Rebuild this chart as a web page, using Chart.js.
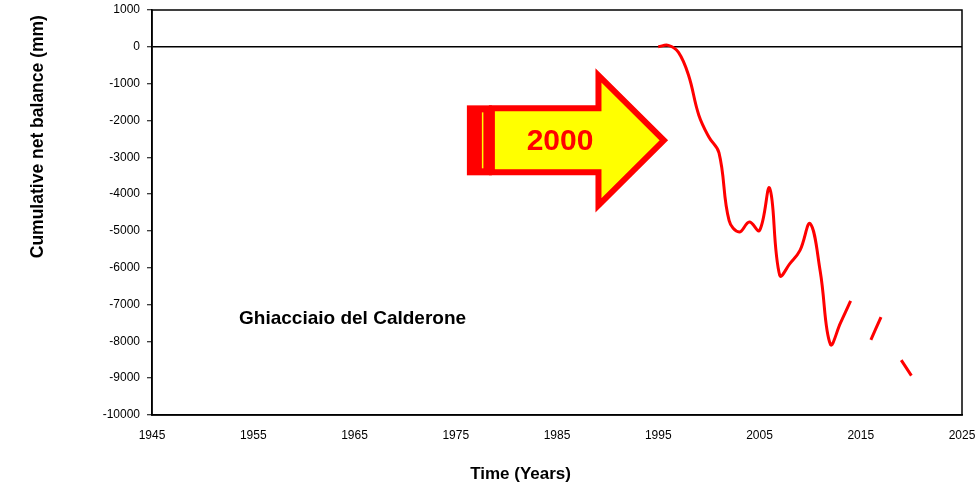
<!DOCTYPE html>
<html>
<head>
<meta charset="utf-8">
<script src="https://cdn.jsdelivr.net/npm/chart.js@4.4.1/dist/chart.umd.min.js"></script>
<style>
  html, body { margin: 0; padding: 0; background: #ffffff; }
  #wrap { width: 978px; height: 489px; position: relative; }
</style>
</head>
<body>
<div id="wrap"><canvas id="c" width="978" height="489"></canvas></div>
<script>
// ---- Data ----
const years = [1995, 1996, 1997, 1998, 1999, 2000, 2001, 2002, 2003, 2004, 2005, 2006, 2007, 2008, 2009, 2010, 2011, 2012, 2013, 2014, 2015, 2016, 2017, 2018, 2019, 2020];
const cumulativeBalance = [0, 40, -150, -780, -1850, -2450, -2880, -4720, -5030, -4760, -4990, -3840, -6210, -5890, -5530, -4800, -6100, -8080, -7500, -6900, null, -7960, -7340, null, -8510, -8930];
const xTicks = [1945, 1955, 1965, 1975, 1985, 1995, 2005, 2015, 2025];
const yTicks = [1000, 0, -1000, -2000, -3000, -4000, -5000, -6000, -7000, -8000, -9000, -10000];
const glacierName = 'Ghiacciaio del Calderone';
const arrowLabel = '2000';
const xTitle = 'Time (Years)';
const yTitle = 'Cumulative net balance (mm)';

const points = years.map((y, i) => ({ x: y, y: cumulativeBalance[i] }));

const decor = {
  id: 'decor',
  afterDraw(chart) {
    const { ctx, chartArea: a, scales } = chart;
    const xs = scales.x, ys = scales.y;
    const px = v => xs.getPixelForValue(v);
    const py = v => ys.getPixelForValue(v);
    ctx.save();
    // plot box
    ctx.strokeStyle = '#000';
    ctx.lineWidth = 1.5;
    ctx.strokeRect(a.left, a.top, a.right - a.left, a.bottom - a.top);

    // arrow annotation (positioned in data units)
    const L = px(1976.1), base = px(1988.8), tip = px(1995.75);
    const sTop = py(-1590), sBot = py(-3490), hTop = py(-640), hBot = py(-4440), mid = py(-2540);
    const w = 6;
    ctx.beginPath();
    ctx.moveTo(L + 25, sTop + w / 2);
    ctx.lineTo(base + w / 2, sTop + w / 2);
    ctx.lineTo(base + w / 2, hTop + 5);
    ctx.lineTo(tip - 2, mid);
    ctx.lineTo(base + w / 2, hBot - 5);
    ctx.lineTo(base + w / 2, sBot - w / 2);
    ctx.lineTo(L + 25, sBot - w / 2);
    ctx.closePath();
    ctx.fillStyle = '#ffff00';
    ctx.fill();
    ctx.strokeStyle = '#ff0000';
    ctx.lineWidth = w;
    ctx.lineJoin = 'miter';
    ctx.stroke();
    // left striped block
    ctx.fillStyle = '#ff0000';
    ctx.fillRect(L, sTop, 25, sBot - sTop);
    ctx.fillStyle = '#ffff00';
    ctx.fillRect(L + 15, sTop + 7, 1.5, sBot - sTop - 14);
    // label in arrow
    ctx.fillStyle = '#ff0000';
    ctx.font = 'bold 30px "Liberation Sans", Arial, sans-serif';
    ctx.textAlign = 'center';
    ctx.textBaseline = 'middle';
    ctx.fillText(arrowLabel, px(1985.3), mid + 1);

    // glacier name
    ctx.fillStyle = '#000';
    ctx.font = 'bold 19px "Liberation Sans", Arial, sans-serif';
    ctx.textAlign = 'left';
    ctx.textBaseline = 'middle';
    ctx.fillText(glacierName, px(1953.6), py(-7390));

    // axis titles
    ctx.font = 'bold 17px "Liberation Sans", Arial, sans-serif';
    ctx.textAlign = 'center';
    ctx.textBaseline = 'middle';
    ctx.fillText(xTitle, px(1981.4), 474);
    ctx.font = 'bold 17.5px "Liberation Sans", Arial, sans-serif';
    ctx.translate(38, py(-2440));
    ctx.rotate(-Math.PI / 2);
    ctx.fillText(yTitle, 0, 0);
    ctx.restore();
  }
};

new Chart(document.getElementById('c'), {
  type: 'line',
  data: {
    datasets: [{
      data: points,
      borderColor: '#ff0000',
      borderWidth: 3,
      pointRadius: 0,
      tension: 0.4,
      spanGaps: false,
      fill: false
    }]
  },
  options: {
    responsive: false,
    animation: false,
    layout: { padding: { top: 10, right: 16, left: 0, bottom: 0 } },
    plugins: { legend: { display: false }, tooltip: { enabled: false } },
    scales: {
      x: {
        type: 'linear',
        min: 1945, max: 2025,
        afterBuildTicks: s => { s.ticks = xTicks.map(v => ({ value: v })); },
        afterFit: s => { s.height = 74; s.paddingRight = 0; s.paddingLeft = 0; },
        grid: { display: false },
        border: { display: true, color: '#000', width: 1.5 },
        ticks: {
          color: '#000',
          font: { family: '"Liberation Sans", Arial, sans-serif', size: 12 },
          maxRotation: 0, autoSkip: false, padding: 5,
          callback: v => String(v)
        }
      },
      y: {
        type: 'linear',
        min: -10000, max: 1000,
        afterBuildTicks: s => { s.ticks = yTicks.map(v => ({ value: v })); },
        afterFit: s => { s.width = 152; s.paddingTop = 0; s.paddingBottom = 0; },
        grid: {
          drawOnChartArea: true,
          color: c => (c.tick && c.tick.value === 0) ? '#000' : 'rgba(0,0,0,0)',
          lineWidth: 1.5,
          tickColor: '#000',
          tickLength: 5,
          tickWidth: 1
        },
        border: { display: true, color: '#000', width: 1.5 },
        ticks: {
          color: '#000',
          font: { family: '"Liberation Sans", Arial, sans-serif', size: 12 },
          padding: 7,
          autoSkip: false,
          callback: v => String(v)
        }
      }
    }
  },
  plugins: [decor]
});
</script>
</body>
</html>
